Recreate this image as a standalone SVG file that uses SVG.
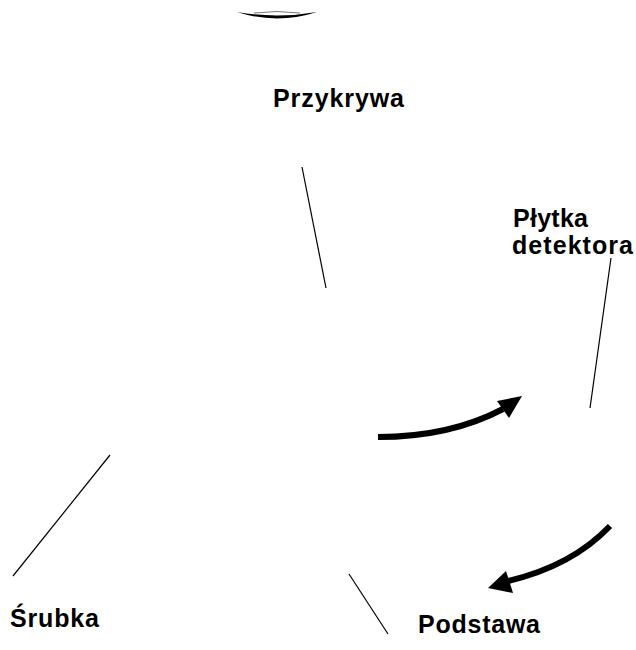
<svg xmlns="http://www.w3.org/2000/svg" width="636" height="650" viewBox="0 0 636 650">
<style>
.lbl{font-family:"Liberation Sans",Arial,sans-serif;font-weight:bold;font-size:25px;fill:#000}
.ln{stroke:#000;stroke-width:1.2;fill:none}
.arr{stroke:#000;stroke-width:6;fill:none}
</style>
<rect width="636" height="650" fill="#fff"/>
<g id="top-shape">
<path d="M237,12 Q277,25 317,12 Q277,19 237,12 Z" fill="#000"/>
<path d="M254,13 Q277,10 300,13" stroke="#777" stroke-width="1" fill="none"/>
</g>
<g id="connectors">
<line class="ln" x1="302" y1="167" x2="326" y2="288"/>
<line class="ln" x1="611" y1="258" x2="590" y2="408"/>
<line class="ln" x1="110" y1="455" x2="13" y2="576"/>
<line class="ln" x1="349" y1="574" x2="388" y2="634"/>
<path class="arr" d="M378,437 Q450,437 503,409"/>
<polygon points="522,396 497,401 509,418" fill="#000"/>
<path class="arr" d="M610,526 Q572,566 508,581"/>
<polygon points="488,588 506,571 513,593" fill="#000"/>
</g>
<g id="przykrywa"><text class="lbl" x="273" y="107" textLength="131" lengthAdjust="spacing">Przykrywa</text></g>
<g id="plytka"><text class="lbl" x="513" y="227" textLength="75" lengthAdjust="spacing">Płytka</text>
<text class="lbl" x="512" y="254" textLength="121" lengthAdjust="spacing">detektora</text></g>
<g id="srubka"><text class="lbl" x="10" y="627" textLength="89" lengthAdjust="spacing">Śrubka</text></g>
<g id="podstawa"><text class="lbl" x="418" y="633" textLength="122" lengthAdjust="spacing">Podstawa</text></g>
</svg>
